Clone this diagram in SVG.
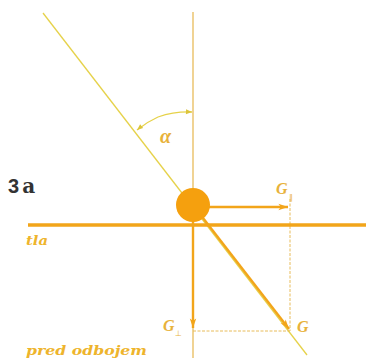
<svg xmlns="http://www.w3.org/2000/svg" width="366" height="358" viewBox="0 0 366 358">
<style>
.thinY{stroke:#e6d24a;stroke-width:1.3;fill:none}
.thinO{stroke:#e8bc5a;stroke-width:1.3;fill:none}
.dash{stroke:#e8bc5a;stroke-width:1;stroke-dasharray:3 1.5;fill:none}
.thick{stroke:#f2a51a;stroke-width:2.4;fill:none}
.lbl{font-family:"Liberation Serif",serif;font-style:italic;font-weight:bold;fill:#e8b23a}
.sub{font-family:"DejaVu Sans",sans-serif;fill:#e8b23a}
.tag{font-family:"DejaVu Serif",serif;font-style:italic;font-weight:bold;fill:#eeb42c;font-size:13px}
</style>
<defs>
<marker id="ah" viewBox="0 0 12 10" refX="12" refY="5" markerWidth="12" markerHeight="8" markerUnits="userSpaceOnUse" orient="auto">
<path d="M0,1 L12,5 L0,9 L3,5 Z" fill="#f2a51a"/>
</marker>
<marker id="sa" viewBox="0 0 10 10" refX="10" refY="5" markerWidth="7" markerHeight="6" markerUnits="userSpaceOnUse" orient="auto">
<path d="M0,1 L10,5 L0,9 Z" fill="#dcc43a"/>
</marker>
</defs>
<g id="connectors">
<line class="thinO" x1="193" y1="12" x2="193" y2="358"/>
<line class="thinY" x1="43" y1="13" x2="307" y2="355"/>
<line class="dash" x1="290" y1="199" x2="290" y2="331"/>
<line class="dash" x1="193" y1="331" x2="290" y2="331"/>
<path class="thinY" d="M158,117 A93,93 0 0 1 192,112" marker-end="url(#sa)"/>
<path class="thinY" d="M158,117 A93,93 0 0 0 137,130" marker-end="url(#sa)"/>
<line x1="28" y1="225" x2="366" y2="225" stroke="#f2a51a" stroke-width="3.5"/>
<line class="thick" x1="205" y1="207" x2="288" y2="207" marker-end="url(#ah)"/>
<line class="thick" x1="193" y1="220" x2="193" y2="328" marker-end="url(#ah)"/>
<line class="thick" x1="203" y1="218" x2="289" y2="329" marker-end="url(#ah)"/>
</g>
<g id="ball"><circle cx="193" cy="205" r="17" fill="#f5a00e"/></g>
<g id="alpha"><text class="lbl" x="160" y="143" font-size="20" font-weight="normal" fill="#dcc43a">α</text></g>
<g id="label-3a"><text x="8" y="193" font-family="Liberation Sans,sans-serif" font-weight="bold" font-size="20" fill="#333">3<tspan font-family="DejaVu Serif,serif" font-size="20" dx="3">a</tspan></text></g>
<g id="label-tla"><text class="tag" x="26" y="245" textLength="22" lengthAdjust="spacingAndGlyphs">tla</text></g>
<g id="label-pred"><text class="tag" x="26" y="355" textLength="121" lengthAdjust="spacingAndGlyphs">pred odbojem</text></g>
<g id="label-Gpar"><text class="lbl" x="276" y="194" font-size="16">G</text><text class="sub" x="289" y="200" font-size="8">∥</text></g>
<g id="label-Gperp"><text class="lbl" x="163" y="331" font-size="16">G</text><text class="sub" x="175" y="336" font-size="8">⊥</text></g>
<g id="label-G"><text class="lbl" x="297" y="332" font-size="16">G</text></g>
</svg>
